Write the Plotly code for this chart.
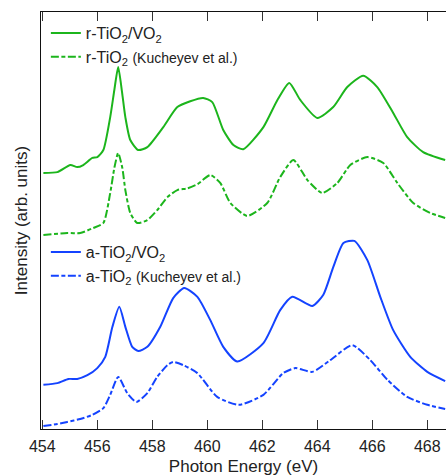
import plotly.graph_objects as go

# Photon energy (eV) and stacked intensities (arb. units, offset for display)
energy_r_film = [454.04, 454.55, 455.02, 455.27, 455.49, 455.82, 456.00, 456.22, 456.47, 456.62,
                 456.76, 456.90, 457.02, 457.20, 457.49, 457.82, 458.40, 458.91, 459.38, 459.85,
                 460.18, 460.58, 460.95, 461.31, 462.04, 462.55, 462.98, 463.38, 464.00, 464.58,
                 465.09, 465.67, 466.18, 466.76, 467.27, 467.85, 468.65]
r_film = [6.14, 6.16, 6.33, 6.28, 6.33, 6.50, 6.52, 6.69, 7.48, 8.13,
          8.68, 8.08, 7.48, 6.93, 6.69, 6.76, 7.24, 7.72, 7.86, 7.94,
          7.84, 7.17, 6.81, 6.71, 7.24, 7.89, 8.30, 7.89, 7.46, 7.72,
          8.20, 8.47, 8.20, 7.58, 7.00, 6.64, 6.45]

energy_r_ref = [454.04, 454.91, 455.38, 455.85, 456.22, 456.47, 456.62, 456.76, 456.91, 457.02,
                457.20, 457.45, 457.82, 458.18, 458.55, 458.91, 459.27, 459.64, 460.11, 460.47,
                460.84, 461.45, 462.18, 462.65, 463.13, 463.64, 464.18, 464.73, 465.20, 465.82,
                466.40, 466.91, 467.49, 468.11, 468.65]
r_ref = [4.65, 4.70, 4.70, 4.82, 4.94, 5.66, 6.26, 6.62, 6.26, 5.73,
         5.18, 4.94, 5.01, 5.25, 5.56, 5.73, 5.77, 5.87, 6.09, 5.90,
         5.42, 5.11, 5.42, 6.04, 6.45, 5.97, 5.66, 5.90, 6.33, 6.52,
         6.38, 5.90, 5.42, 5.18, 5.06]

energy_a_film = [454.04, 454.55, 454.95, 455.27, 455.64, 456.00, 456.29, 456.55, 456.80, 457.02,
                 457.27, 457.49, 457.82, 458.29, 458.76, 459.16, 459.64, 460.11, 460.58, 461.09,
                 462.04, 462.65, 463.09, 463.82, 464.22, 464.58, 464.95, 465.35, 465.82, 466.29,
                 466.76, 467.38, 468.00, 468.65]
a_film = [1.06, 1.10, 1.20, 1.20, 1.29, 1.46, 1.73, 2.45, 2.93, 2.45,
          1.97, 1.87, 1.97, 2.45, 3.14, 3.38, 3.17, 2.61, 1.97, 1.62,
          2.06, 2.85, 3.17, 2.95, 3.22, 3.88, 4.46, 4.51, 4.05, 3.17,
          2.37, 1.73, 1.37, 1.15]

energy_a_ref = [454.04, 454.55, 454.91, 455.38, 455.82, 456.22, 456.47, 456.76, 457.09, 457.42,
                457.82, 458.18, 458.55, 458.76, 459.13, 459.64, 460.36, 461.15, 462.04, 462.76,
                463.20, 463.82, 464.47, 465.27, 465.93, 466.55, 467.27, 468.00, 468.65]
a_ref = [0.07, 0.12, 0.17, 0.24, 0.34, 0.50, 0.82, 1.25, 0.86, 0.65,
         0.86, 1.25, 1.53, 1.61, 1.53, 1.34, 0.77, 0.58, 0.82, 1.34,
         1.46, 1.37, 1.65, 2.01, 1.65, 1.18, 0.77, 0.58, 0.48]

x_ticks = [454, 456, 458, 460, 462, 464, 466, 468]

GREEN = "#1cb51c"
BLUE = "#1443ff"
DASH = "8px,2.5px,4px,2.5px"
FONT = "Liberation Sans, Arial, sans-serif"
SMALL = "<span style='font-size:14px'>(Kucheyev et al.)</span>"

fig = go.Figure()

fig.add_trace(go.Scatter(
    x=energy_r_film, y=r_film, mode="lines", name="r-TiO<sub>2</sub>/VO<sub>2</sub>",
    line=dict(color=GREEN, width=2, shape="spline", smoothing=0.6), legend="legend"))
fig.add_trace(go.Scatter(
    x=energy_r_ref, y=r_ref, mode="lines", name="r-TiO<sub>2</sub> " + SMALL,
    line=dict(color=GREEN, width=2, dash=DASH, shape="spline", smoothing=0.6), legend="legend"))
fig.add_trace(go.Scatter(
    x=energy_a_film, y=a_film, mode="lines", name="a-TiO<sub>2</sub>/VO<sub>2</sub>",
    line=dict(color=BLUE, width=2, shape="spline", smoothing=0.6), legend="legend2"))
fig.add_trace(go.Scatter(
    x=energy_a_ref, y=a_ref, mode="lines", name="a-TiO<sub>2</sub> " + SMALL,
    line=dict(color=BLUE, width=2, dash=DASH, shape="spline", smoothing=0.6), legend="legend2"))

legend_style = dict(
    font=dict(family=FONT, size=16, color="#222"),
    bgcolor="rgba(0,0,0,0)", borderwidth=0, tracegroupgap=0,
    xanchor="left", yanchor="top", itemwidth=30,
)

fig.update_layout(
    width=446, height=476,
    margin=dict(l=41, r=0, t=12, b=47),
    paper_bgcolor="white", plot_bgcolor="white",
    font=dict(family=FONT, size=16, color="#222"),
    legend=dict(x=0.012, y=0.99, **legend_style),
    legend2=dict(x=0.012, y=0.465, **legend_style),
    xaxis=dict(
        range=[453.953, 468.68], tickvals=x_ticks, ticks="inside", ticklen=9,
        tickwidth=1, tickcolor="#333", showline=True, linecolor="#111", linewidth=1,
        mirror="ticks", showgrid=False, zeroline=False, ticklabelstandoff=3,
        tickfont=dict(family=FONT, size=16, color="#222"),
        title=dict(text="Photon Energy (eV)", font=dict(family=FONT, size=17, color="#222"),
                   standoff=5),
    ),
    yaxis=dict(
        range=[0, 10], showticklabels=False, ticks="", showline=True,
        linecolor="#111", linewidth=1, showgrid=False, zeroline=False,
        title=dict(text="Intensity (arb. units)", font=dict(family=FONT, size=17, color="#222"),
                   standoff=8),
    ),
)

fig.write_html("out.html")
